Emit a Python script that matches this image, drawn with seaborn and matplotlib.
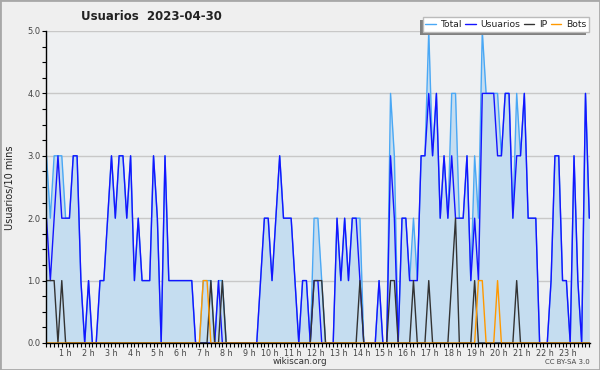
import numpy as np
import matplotlib
matplotlib.use("Agg")
import matplotlib.pyplot as plt
import matplotlib.transforms as mtransforms
from matplotlib.patches import Rectangle
from matplotlib.ticker import MultipleLocator
import seaborn as sns

# usuarios por franja de 10 minutos (2023-04-30), 12 franjas por fila = 2 horas
usuarios = [
    2, 1, 2, 3, 2, 2, 2, 3, 3, 1, 0, 1,
    0, 0, 1, 1, 2, 3, 2, 3, 3, 2, 3, 1,
    2, 1, 1, 1, 3, 2, 0, 3, 1, 1, 1, 1,
    1, 1, 1, 0, 0, 0, 0, 0, 0, 1, 0, 0,
    0, 0, 0, 0, 0, 0, 0, 0, 1, 2, 2, 1,
    2, 3, 2, 2, 2, 1, 0, 1, 1, 0, 1, 1,
    0, 0, 0, 0, 2, 1, 2, 1, 2, 2, 1, 0,
    0, 0, 0, 1, 0, 0, 3, 2, 0, 2, 2, 1,
    1, 1, 3, 3, 4, 3, 4, 2, 3, 2, 3, 2,
    2, 2, 3, 1, 2, 1, 4, 4, 4, 4, 3, 3,
    4, 4, 2, 3, 3, 4, 2, 2, 2, 0, 0, 0,
    1, 3, 3, 1, 1, 0, 3, 1, 0, 4, 2,
]
ip = [
    1, 1, 1, 0, 1, 0, 0, 0, 0, 0, 0, 0,
    0, 0, 0, 0, 0, 0, 0, 0, 0, 0, 0, 0,
    0, 0, 0, 0, 0, 0, 0, 0, 0, 0, 0, 0,
    0, 0, 0, 0, 0, 0, 0, 1, 0, 0, 1, 0,
    0, 0, 0, 0, 0, 0, 0, 0, 0, 0, 0, 0,
    0, 0, 0, 0, 0, 0, 0, 0, 0, 0, 1, 1,
    1, 0, 0, 0, 0, 0, 0, 0, 0, 0, 1, 0,
    0, 0, 0, 0, 0, 0, 1, 1, 0, 0, 0, 0,
    1, 0, 0, 0, 1, 0, 0, 0, 0, 0, 1, 2,
    0, 0, 0, 0, 1, 0, 0, 0, 0, 0, 0, 0,
    0, 0, 0, 1, 0, 0, 0, 0, 0, 0, 0, 0,
    0, 0, 0, 0, 0, 0, 0, 0, 0, 0, 0,
]
bots = [
    0, 0, 0, 0, 0, 0, 0, 0, 0, 0, 0, 0,
    0, 0, 0, 0, 0, 0, 0, 0, 0, 0, 0, 0,
    0, 0, 0, 0, 0, 0, 0, 0, 0, 0, 0, 0,
    0, 0, 0, 0, 0, 1, 1, 0, 0, 0, 0, 0,
    0, 0, 0, 0, 0, 0, 0, 0, 0, 0, 0, 0,
    0, 0, 0, 0, 0, 0, 0, 0, 0, 0, 0, 0,
    0, 0, 0, 0, 0, 0, 0, 0, 0, 0, 0, 0,
    0, 0, 0, 0, 0, 0, 0, 0, 0, 0, 0, 0,
    0, 0, 0, 0, 0, 0, 0, 0, 0, 0, 0, 0,
    0, 0, 0, 0, 0, 1, 1, 0, 0, 0, 1, 0,
    0, 0, 0, 0, 0, 0, 0, 0, 0, 0, 0, 0,
    0, 0, 0, 0, 0, 0, 0, 0, 0, 0, 0,
]
total = [
    3, 2, 3, 3, 3, 2, 2, 3, 3, 1, 0, 1,
    0, 0, 1, 1, 2, 3, 2, 3, 3, 2, 3, 1,
    2, 1, 1, 1, 3, 2, 0, 3, 1, 1, 1, 1,
    1, 1, 1, 0, 0, 1, 1, 1, 0, 1, 1, 0,
    0, 0, 0, 0, 0, 0, 0, 0, 1, 2, 2, 1,
    2, 3, 2, 2, 2, 1, 0, 1, 1, 0, 2, 2,
    1, 0, 0, 0, 2, 1, 2, 1, 2, 2, 2, 0,
    0, 0, 0, 1, 0, 0, 4, 3, 0, 2, 2, 1,
    2, 1, 3, 3, 5, 3, 4, 2, 3, 2, 4, 4,
    2, 2, 3, 1, 3, 2, 5, 4, 4, 4, 4, 3,
    4, 4, 2, 4, 3, 4, 2, 2, 2, 0, 0, 0,
    1, 3, 3, 1, 1, 0, 3, 1, 0, 4, 2,
]
horas = ["1 h", "2 h", "3 h", "4 h", "5 h", "6 h", "7 h", "8 h", "9 h", "10 h",
         "11 h", "12 h", "13 h", "14 h", "15 h", "16 h", "17 h", "18 h", "19 h",
         "20 h", "21 h", "22 h", "23 h"]

slots = np.arange(len(usuarios))

sns.set_theme(style="white")
plt.rcParams["font.family"] = ["DejaVu Sans"]

fig = plt.figure(figsize=(6, 3.7), dpi=100, facecolor="#efefef")
ax = fig.add_axes([46 / 600, 27 / 370, 544 / 600, 312 / 370])
ax.set_facecolor("#eef0f2")

ax.fill_between(slots, total, color="#c5ddf0", lw=0, zorder=1)
sns.lineplot(x=slots, y=total, color="#4aa8f5", lw=1, ax=ax, label="Total", zorder=2)
sns.lineplot(x=slots, y=usuarios, color="#1414ff", lw=1, ax=ax, label="Usuarios", zorder=3)
sns.lineplot(x=slots, y=ip, color="#333333", lw=1, ax=ax, label="IP", zorder=4)
sns.lineplot(x=slots, y=bots, color="#ff9900", lw=1, ax=ax, label="Bots", zorder=4)

ax.set_xlim(-0.13, 142.18)
ax.set_ylim(0, 5)

# ejes
ax.set_xticks(np.arange(6, 142, 6))
ax.set_xticklabels(horas)
ax.set_xticks(slots, minor=True)
ax.set_yticks(range(6))
ax.set_yticklabels([f"{v:.1f}" for v in range(6)])
ax.yaxis.set_minor_locator(MultipleLocator(0.25))
ax.tick_params(axis="both", which="both", direction="out", length=3, width=0.8,
               color="black", labelcolor="#444444", pad=1, bottom=True, left=True)
ax.tick_params(axis="x", labelsize=5.8)
ax.tick_params(axis="y", labelsize=6)
for lab in ax.get_xticklabels():
    lab.set_ha("right")
    lab.set_transform(lab.get_transform() +
                      mtransforms.ScaledTranslation(0.025, 0, fig.dpi_scale_trans))

ax.set_xlabel("")
ax.set_ylabel("")
ax.yaxis.grid(True, color="#c8c8c8", lw=1)
ax.set_axisbelow(True)
for s in ["top", "right"]:
    ax.spines[s].set_visible(False)
for s in ["left", "bottom"]:
    ax.spines[s].set_color("black")
    ax.spines[s].set_linewidth(1)
    ax.spines[s].set_zorder(10)

# textos
fig.text(151 / 600, 1 - 17 / 370, "Usuarios  2023-04-30", fontsize=8.5,
         fontweight="bold", ha="center", va="center", color="#222222")
fig.text(10 / 600, 1 - 188 / 370, "Usuarios/10 mins", fontsize=7, rotation=90,
         ha="center", va="center", color="#222222")
fig.text(300 / 600, 1 - 361 / 370, "wikiscan.org", fontsize=6.3,
         ha="center", va="center", color="#333333")
fig.text(590 / 600, 1 - 362 / 370, "CC BY-SA 3.0", fontsize=5,
         ha="right", va="center", color="#444444")

# leyenda con sombra
handles, labels = ax.get_legend_handles_labels()
ax.get_legend().remove()
leg = fig.legend(handles, labels, loc="upper right",
                 bbox_to_anchor=(589 / 600, 1 - 17 / 370), ncol=4, fontsize=6.7,
                 handlelength=1.1, handletextpad=0.5, columnspacing=0.4,
                 borderpad=0.3, borderaxespad=0, frameon=True, fancybox=False,
                 edgecolor="#bbbbbb", facecolor="white", framealpha=1)
leg.set_zorder(6)
for t in leg.get_texts():
    t.set_color("#222222")

fig.canvas.draw()
bb = leg.get_window_extent().transformed(fig.transFigure.inverted())
fig.add_artist(Rectangle((bb.x0 - 3 / 600, bb.y0 - 3 / 370), bb.width, bb.height,
                         transform=fig.transFigure, facecolor="#808080",
                         edgecolor="none", zorder=5))
fig.add_artist(Rectangle((0, 0), 1, 1, transform=fig.transFigure, fill=False,
                         edgecolor="#a8a8a8", lw=2, zorder=10))

fig.savefig("out.png", dpi=100, facecolor=fig.get_facecolor())
